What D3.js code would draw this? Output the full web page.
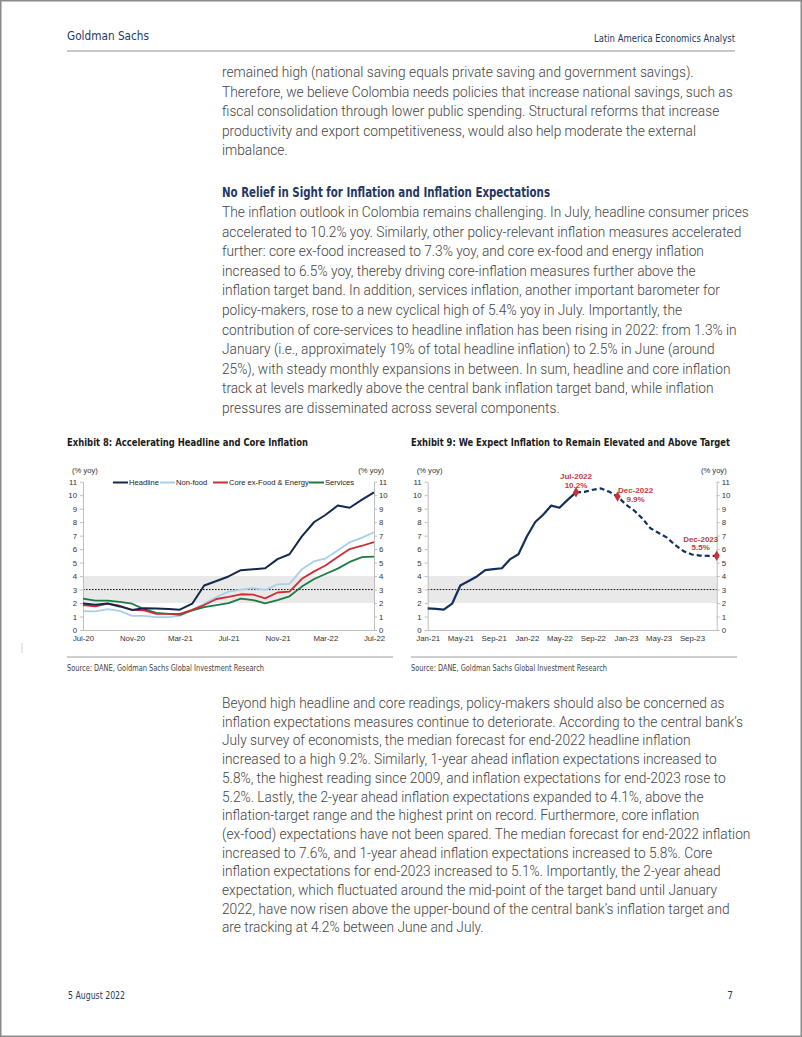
<!DOCTYPE html>
<html><head><meta charset="utf-8">
<script src="https://cdn.jsdelivr.net/npm/d3@7"></script>
<style>
body{margin:0;background:#fff}
svg{display:block}
.body{font-family:Roboto,'Liberation Sans',sans-serif;font-weight:300;fill:#444}
.cond{font-family:'Liberation Sans Narrow','DejaVu Sans Condensed','Roboto Condensed','Arial Narrow',sans-serif;font-stretch:condensed}
.ax text{font-family:'Liberation Sans',Arial,sans-serif;font-size:7.8px;fill:#333}
.ax path,.ax line{stroke:#bdbdbd}
</style>
</head><body>
<svg id="page" width="802" height="1037"></svg>
<script>
// ---------- DATA ----------
const months8 = ["Jul-20","Aug-20","Sep-20","Oct-20","Nov-20","Dec-20","Jan-21","Feb-21","Mar-21","Apr-21","May-21","Jun-21","Jul-21","Aug-21","Sep-21","Oct-21","Nov-21","Dec-21","Jan-22","Feb-22","Mar-22","Apr-22","May-22","Jun-22","Jul-22"];
const headline8 = [1.97,1.88,1.97,1.75,1.49,1.61,1.60,1.56,1.51,1.95,3.30,3.63,3.97,4.44,4.51,4.58,5.26,5.62,6.94,8.01,8.53,9.23,9.07,9.67,10.21];
const nonfood8  = [1.40,1.38,1.55,1.42,1.05,1.05,0.95,0.95,1.05,1.50,1.95,2.45,2.85,3.00,3.10,2.97,3.38,3.42,4.50,5.10,5.30,5.90,6.50,6.85,7.25];
const core8     = [1.85,1.75,1.95,1.80,1.50,1.45,1.20,1.20,1.20,1.50,1.85,2.30,2.45,2.65,2.62,2.35,2.78,2.85,3.80,4.35,4.78,5.42,6.00,6.25,6.52];
const services8 = [2.33,2.18,2.18,2.08,1.95,1.55,1.27,1.20,1.12,1.45,1.70,1.85,2.00,2.32,2.22,1.97,2.22,2.50,3.22,3.78,4.15,4.55,5.05,5.40,5.45];
const series8Names = ["Headline","Non-food","Core ex-Food & Energy","Services"];
const xTicks8 = ["Jul-20","Nov-20","Mar-21","Jul-21","Nov-21","Mar-22","Jul-22"];

const monthsActual9 = ["Jan-21","Feb-21","Mar-21","Apr-21","May-21","Jun-21","Jul-21","Aug-21","Sep-21","Oct-21","Nov-21","Dec-21","Jan-22","Feb-22","Mar-22","Apr-22","May-22","Jun-22","Jul-22"];
const actual9 = [1.60,1.56,1.51,1.95,3.30,3.63,3.97,4.44,4.51,4.58,5.26,5.62,6.94,8.01,8.53,9.23,9.07,9.67,10.21];
const monthsForecast9 = ["Jul-22","Aug-22","Sep-22","Oct-22","Nov-22","Dec-22","Jan-23","Feb-23","Mar-23","Apr-23","May-23","Jun-23","Jul-23","Aug-23","Sep-23","Oct-23","Nov-23","Dec-23"];
const forecast9 = [10.21,10.25,10.40,10.50,10.25,9.90,9.30,8.85,8.30,7.55,7.20,6.85,6.30,5.85,5.60,5.52,5.50,5.50];
const markers9 = [
  {month:"Jul-22", value:10.21, label:["Jul-2022","10.2%"]},
  {month:"Dec-22", value:9.90,  label:["Dec-2022","9.9%"]},
  {month:"Dec-23", value:5.50,  label:["Dec-2023","5.5%"]}
];
const xTicks9 = ["Jan-21","May-21","Sep-21","Jan-22","May-22","Sep-22","Jan-23","May-23","Sep-23"];
const yTicks = [0,1,2,3,4,5,6,7,8,9,10,11];
const targetBand = [2,4];
const targetMid = 3;

// ---------- TEXT ----------
const para1 = [
"remained high (national saving equals private saving and government savings).",
"Therefore, we believe Colombia needs policies that increase national savings, such as",
"fiscal consolidation through lower public spending. Structural reforms that increase",
"productivity and export competitiveness, would also help moderate the external",
"imbalance."];
const heading = "No Relief in Sight for Inflation and Inflation Expectations";
const para2 = [
"The inflation outlook in Colombia remains challenging. In July, headline consumer prices",
"accelerated to 10.2% yoy. Similarly, other policy-relevant inflation measures accelerated",
"further: core ex-food increased to 7.3% yoy, and core ex-food and energy inflation",
"increased to 6.5% yoy, thereby driving core-inflation measures further above the",
"inflation target band. In addition, services inflation, another important barometer for",
"policy-makers, rose to a new cyclical high of 5.4% yoy in July. Importantly, the",
"contribution of core-services to headline inflation has been rising in 2022: from 1.3% in",
"January (i.e., approximately 19% of total headline inflation) to 2.5% in June (around",
"25%), with steady monthly expansions in between. In sum, headline and core inflation",
"track at levels markedly above the central bank inflation target band, while inflation",
"pressures are disseminated across several components."];
const para3 = [
"Beyond high headline and core readings, policy-makers should also be concerned as",
"inflation expectations measures continue to deteriorate. According to the central bank\u2019s",
"July survey of economists, the median forecast for end-2022 headline inflation",
"increased to a high 9.2%. Similarly, 1-year ahead inflation expectations increased to",
"5.8%, the highest reading since 2009, and inflation expectations for end-2023 rose to",
"5.2%. Lastly, the 2-year ahead inflation expectations expanded to 4.1%, above the",
"inflation-target range and the highest print on record. Furthermore, core inflation",
"(ex-food) expectations have not been spared. The median forecast for end-2022 inflation",
"increased to 7.6%, and 1-year ahead inflation expectations increased to 5.8%. Core",
"inflation expectations for end-2023 increased to 5.1%. Importantly, the 2-year ahead",
"expectation, which fluctuated around the mid-point of the target band until January",
"2022, have now risen above the upper-bound of the central bank\u2019s inflation target and",
"are tracking at 4.2% between June and July."];

// ---------- PAGE ----------
const parse = d3.timeParse("%b-%y");
const fmt = d3.timeFormat("%b-%y");
const svg = d3.select("#page");
svg.append("rect").attr("x",0.75).attr("y",0.75).attr("width",800.5).attr("height",1035.5)
  .attr("fill","#fff").attr("stroke","#8a8a8a").attr("stroke-width",1.5);

function condText(x,y,t,size,len,opt={}){
  const el = svg.append("text").attr("class","cond").attr("x",x).attr("y",y)
    .attr("font-size",size).attr("fill",opt.fill||"#1f3a5c")
    .attr("font-weight",opt.weight||"normal")
    .attr("text-anchor",opt.anchor||"start").text(t);
  if(len){el.attr("textLength",len).attr("lengthAdjust","spacingAndGlyphs");}
  return el;
}
// header
condText(67,40,"Goldman Sachs",12.5,82);
condText(735,41.5,"Latin America Economics Analyst",10.5,141,{anchor:"end"});
svg.append("line").attr("x1",67).attr("x2",735).attr("y1",51).attr("y2",51).attr("stroke","#b5b5b5").attr("stroke-width",1.6);
// footer
condText(68,999,"5 August 2022",10,57);
condText(733,999,"7",10,null,{anchor:"end"});
svg.append("line").attr("x1",22).attr("x2",22).attr("y1",643).attr("y2",653).attr("stroke","#d0d0d0").attr("stroke-width",1);

// body text
const bodyX = 222;
function para(lines,y0,lh){
  return lines.map((t,i)=>svg.append("text").attr("class","body").attr("x",bodyX).attr("y",y0+i*lh).attr("font-size",14).text(t));
}
const all = [].concat(para(para1,77,19.6), para(para2,217,19.6), para(para3,708,18.7));
const w = all[1].node().getComputedTextLength();
const fs = 14*511/w;
all.forEach(e=>e.attr("font-size",fs));
condText(bodyX,197,heading,14.5,328,{weight:"bold",fill:"#1f3864"});

// ---------- CHART HELPERS ----------
const y = d3.scaleLinear().domain([0,11]).range([630,481.7]);

function frame(x, left, right, xTickVals, title, titleX, titleLen, srcLen){
  const g = svg.append("g");
  g.append("rect").attr("x",left).attr("width",right-left)
    .attr("y",y(targetBand[1])).attr("height",y(targetBand[0])-y(targetBand[1])).attr("fill","#e9e9e9");
  g.append("line").attr("x1",left).attr("x2",right).attr("y1",y(targetMid)).attr("y2",y(targetMid))
    .attr("stroke","#111").attr("stroke-width",1).attr("stroke-dasharray","1.6,1.4");
  g.append("g").attr("class","ax").attr("transform",`translate(${left},0)`)
    .call(d3.axisLeft(y).tickValues(yTicks).tickSize(3).tickSizeOuter(0).tickPadding(3));
  g.append("g").attr("class","ax").attr("transform",`translate(${right},0)`)
    .call(d3.axisRight(y).tickValues(yTicks).tickSize(3).tickSizeOuter(0).tickPadding(2));
  const xb = g.append("g").attr("class","ax").attr("transform",`translate(0,${y(0)})`)
    .call(d3.axisBottom(x).tickValues(xTickVals.map(parse)).tickFormat(fmt).tickSize(0).tickSizeOuter(0).tickPadding(5.5));
  xb.select(".domain").attr("stroke","#d6d6d6");
  g.selectAll(".ax text").attr("fill","#333");
  [[left-11,"start"],[right+10,"end"]].forEach(([px,a])=>{
    g.append("text").attr("x",px).attr("y",473).attr("text-anchor",a)
      .attr("font-family","'Liberation Sans',Arial,sans-serif").attr("font-size",7.6).attr("fill","#333").text("(% yoy)");
  });
  condText(titleX,446,title,10.5,titleLen,{weight:"bold",fill:"#1a1a1a"});
  svg.append("line").attr("x1",titleX).attr("x2",titleX+326).attr("y1",657).attr("y2",657).attr("stroke","#bdbdbd").attr("stroke-width",1.4);
  condText(titleX,671,"Source: DANE, Goldman Sachs Global Investment Research",8.5,srcLen,{fill:"#444"});
  return g;
}

// ---------- EXHIBIT 8 ----------
const x8 = d3.scaleTime().domain([parse(months8[0]),parse(months8[months8.length-1])]).range([83,374]);
const g8 = frame(x8,83,374,xTicks8,"Exhibit 8: Accelerating Headline and Core Inflation",67,241,197);
const colors8 = ["#13294b","#a8cfe9","#d12c35","#1d7a45"];
const data8 = [headline8,nonfood8,core8,services8];
const line8 = d3.line().x((d,i)=>x8(parse(months8[i]))).y(d=>y(d));
[1,3,2,0].forEach(k=>{
  g8.append("path").datum(data8[k]).attr("d",line8).attr("fill","none")
    .attr("stroke",colors8[k]).attr("stroke-width",k===0?2:1.8).attr("stroke-linejoin","round");
});
const legX = [113,160,213,309];
series8Names.forEach((n,i)=>{
  g8.append("line").attr("x1",legX[i]).attr("x2",legX[i]+15).attr("y1",482.5).attr("y2",482.5)
    .attr("stroke",colors8[i]).attr("stroke-width",2);
  g8.append("text").attr("x",legX[i]+16).attr("y",485.3).attr("font-family","'Liberation Sans',Arial,sans-serif")
    .attr("font-size",7.6).attr("fill","#222").text(n);
});

// ---------- EXHIBIT 9 ----------
const x9 = d3.scaleTime().domain([parse("Jan-21"),parse("Dec-23")]).range([427.7,716.7]);
const g9 = frame(x9,427.7,716.7,xTicks9,"Exhibit 9: We Expect Inflation to Remain Elevated and Above Target",411,319,196);
const navy9 = "#14305a";
g9.append("path").datum(actual9).attr("fill","none").attr("stroke",navy9).attr("stroke-width",2.2)
  .attr("stroke-linejoin","round")
  .attr("d",d3.line().x((d,i)=>x9(parse(monthsActual9[i]))).y(d=>y(d)));
g9.append("path").datum(forecast9).attr("fill","none").attr("stroke",navy9).attr("stroke-width",2.2)
  .attr("stroke-dasharray","5,3").attr("stroke-linejoin","round")
  .attr("d",d3.line().x((d,i)=>x9(parse(monthsForecast9[i]))).y(d=>y(d)));
const labelOff = [[0,-13,-4.5],[18,-3.5,5],[-16,-14,-5.5]];
markers9.forEach((m,i)=>{
  const mx = x9(parse(m.month)), my = y(m.value);
  g9.append("path").attr("d",d3.symbol(d3.symbolDiamond,32)()).attr("transform",`translate(${mx},${my})`).attr("fill","#c9303a");
  const [dx,d1,d2] = labelOff[i];
  [d1,d2].forEach((dy,j)=>{
    g9.append("text").attr("x",mx+dx).attr("y",my+dy).attr("text-anchor","middle")
      .attr("font-family","'Liberation Sans',Arial,sans-serif").attr("font-size",8).attr("font-weight","bold")
      .attr("fill","#c33a42").text(m.label[j]);
  });
});
</script>
</body></html>
